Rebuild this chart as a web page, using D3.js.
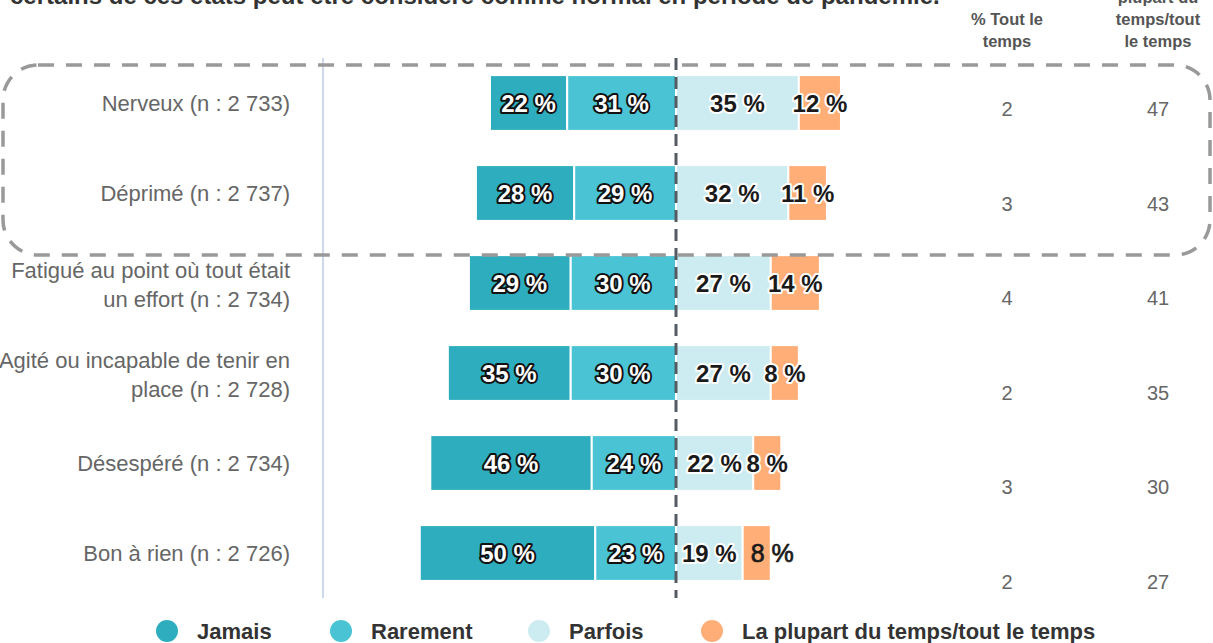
<!DOCTYPE html>
<html lang="fr">
<head>
<meta charset="utf-8">
<style>
    body { margin: 0; background: #fff; }
    svg { display: block; font-family: "Liberation Sans", Arial, sans-serif; }
    .rowlabel { fill: #666; font-size: 22px; }
    .colhead { fill: #555; font-size: 16.5px; font-weight: bold; }
    .colval { fill: #666; font-size: 20px; }
    .barlabel { paint-order: stroke; stroke-linejoin: round; }
    .legend text { fill: #333; font-size: 22px; font-weight: bold; }
</style>
</head>
<body>
<svg id="chart" width="1213" height="643"></svg>
<script src="https://cdn.jsdelivr.net/npm/d3@7"></script>
<script>

    var categories = [
        ["Nerveux (n : 2 733)"],
        ["Déprimé (n : 2 737)"],
        ["Fatigué au point où tout était", "un effort (n : 2 734)"],
        ["Agité ou incapable de tenir en", "place (n : 2 728)"],
        ["Désespéré (n : 2 734)"],
        ["Bon à rien (n : 2 726)"]
    ];
    var seriesNames = ["Jamais", "Rarement", "Parfois", "La plupart du temps/tout le temps"];
    var jamais = [22, 28, 29, 35, 46, 50];
    var rarement = [31, 29, 30, 30, 24, 23];
    var parfois = [35, 32, 27, 27, 22, 19];
    var plupart = [12, 11, 14, 8, 8, 8];
    var toutLeTemps = [2, 3, 4, 2, 3, 2];
    var plupartToutLeTemps = [47, 43, 41, 35, 30, 27];
    var colHead1 = ["% Tout le", "temps"];
    var colHead2 = ["plupart du", "temps/tout", "le temps"];
    var title = "certains de ces états peut être considéré comme normal en période de pandémie.";

    var colors = ["#2eadbe", "#4ac4d4", "#cdecf1", "#ffae78"];

    var svg = d3.select("#chart");
    var ids = d3.range(categories.length);

    var x = d3.scaleLinear().domain([-100, 100]).range([325, 1027]);
    var y = d3.scaleBand().domain(ids).range([58, 598]).paddingInner(0.38).paddingOuter(0.19);
    var yv = d3.scalePoint().domain(ids).range([109, 582]);

    // build segments
    var segs = [];
    ids.forEach(function (i) {
        var v = [jamais[i], rarement[i], parfois[i], plupart[i]];
        var starts = [-(v[0] + v[1]), -v[1], 0, v[2]];
        v.forEach(function (val, k) {
            segs.push({ row: i, k: k, value: val, x0: starts[k], x1: starts[k] + val });
        });
    });
    // the last orange label is drawn plain and off-centre in the original
    function plain(d) { return d.k == 3 && d.row == categories.length - 1; }

    // title (cut at the top in the original)
    svg.append("text")
        .attr("x", 10).attr("y", 4)
        .attr("fill", "#333")
        .attr("font-size", "24px")
        .attr("font-weight", "bold")
        .text(title);

    // thin axis line
    svg.append("line")
        .attr("x1", x(-100) - 2).attr("x2", x(-100) - 2)
        .attr("y1", 58).attr("y2", 598)
        .attr("stroke", "#cdd7ee").attr("stroke-width", 2);

    // row labels
    var lab = svg.append("g").selectAll("text")
        .data(ids).enter().append("text")
        .attr("class", "rowlabel")
        .attr("text-anchor", "end")
        .attr("x", 290)
        .attr("y", function (i) { return y(i) + y.bandwidth() / 2 - (categories[i].length - 1) * 12.5; });
    lab.selectAll("tspan")
        .data(function (i) { return categories[i]; })
        .enter().append("tspan")
        .attr("x", 290)
        .attr("dy", function (d, j) { return j == 0 ? "0.35em" : 29; })
        .text(function (d) { return d; });

    // bars
    svg.append("g").selectAll("rect")
        .data(segs).enter().append("rect")
        .attr("x", function (d) { return x(d.x0); })
        .attr("width", function (d) { return x(d.x1) - x(d.x0); })
        .attr("y", function (d) { return y(d.row); })
        .attr("height", y.bandwidth())
        .attr("fill", function (d) { return colors[d.k]; })
        .attr("stroke", "#fff")
        .attr("stroke-width", 2);

    // bar labels
    svg.append("g").selectAll("text")
        .data(segs).enter().append("text")
        .attr("class", "barlabel")
        .attr("text-anchor", function (d) { return plain(d) ? "start" : "middle"; })
        .attr("x", function (d) {
            if (plain(d)) return x(d.x0) + 8;
            return (x(d.x0) + x(d.x1)) / 2;
        })
        .attr("y", function (d) { return y(d.row) + y.bandwidth() / 2; })
        .attr("dy", "0.36em")
        .attr("fill", function (d) { return d.k < 2 ? "#fff" : "#1a1a1a"; })
        .attr("stroke", function (d) {
            if (plain(d)) return "#1a1a1a";
            return d.k < 2 ? "#111" : "#fff";
        })
        .attr("stroke-width", function (d) { return plain(d) ? 0.7 : 4; })
        .style("font-weight", function (d) { return plain(d) ? "normal" : "bold"; })
        .style("font-size", function (d) { return plain(d) ? "25px" : "24px"; })
        .text(function (d) { return d.value + " %"; });

    // center dashed line
    svg.append("line")
        .attr("x1", x(0)).attr("x2", x(0))
        .attr("y1", 58).attr("y2", 598)
        .attr("stroke", "#555b63").attr("stroke-width", 3)
        .attr("stroke-dasharray", "12,7");

    // right columns
    var cx1 = 1007, cx2 = 1158;
    svg.append("g").selectAll("text")
        .data(colHead1).enter().append("text")
        .attr("class", "colhead").attr("text-anchor", "middle")
        .attr("x", cx1).attr("y", function (d, j) { return 25 + j * 22; })
        .text(function (d) { return d; });
    svg.append("g").selectAll("text")
        .data(colHead2).enter().append("text")
        .attr("class", "colhead").attr("text-anchor", "middle")
        .attr("x", cx2).attr("y", function (d, j) { return 3 + j * 22; })
        .text(function (d) { return d; });

    svg.append("g").selectAll("text")
        .data(ids).enter().append("text")
        .attr("class", "colval").attr("text-anchor", "middle")
        .attr("x", cx1).attr("y", function (i) { return yv(i); }).attr("dy", "0.35em")
        .text(function (i) { return toutLeTemps[i]; });
    svg.append("g").selectAll("text")
        .data(ids).enter().append("text")
        .attr("class", "colval").attr("text-anchor", "middle")
        .attr("x", cx2).attr("y", function (i) { return yv(i); }).attr("dy", "0.35em")
        .text(function (i) { return plupartToutLeTemps[i]; });

    // highlight box round the first two rows
    svg.append("rect")
        .attr("x", 3).attr("y", 65)
        .attr("width", 1207).attr("height", 190)
        .attr("rx", 35).attr("ry", 35)
        .attr("fill", "none")
        .attr("stroke", "#999").attr("stroke-width", 3.5)
        .attr("stroke-dasharray", "16,12");

    // legend
    var legX = [167, 341, 539, 712];
    var leg = svg.append("g").attr("class", "legend")
        .selectAll("g").data(seriesNames).enter().append("g")
        .attr("transform", function (d, i) { return "translate(" + legX[i] + ",631)"; });
    leg.append("circle").attr("r", 11).attr("fill", function (d, i) { return colors[i]; });
    leg.append("text").attr("x", 30).attr("dy", "0.36em").text(function (d) { return d; });

</script>
</body>
</html>
